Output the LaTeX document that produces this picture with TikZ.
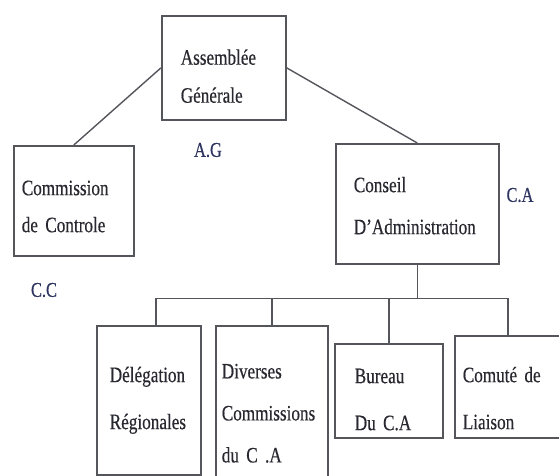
\documentclass[tikz,border=0pt]{standalone}
\usepackage{fontspec}
\setmainfont{Liberation Serif}[FakeStretch=0.78,FakeBold=0.4,WordSpace=0.45]
\usetikzlibrary{positioning}
\definecolor{boxline}{RGB}{85,85,92}
\definecolor{boxink}{RGB}{40,40,48}
\definecolor{tagink}{RGB}{45,52,95}
\newcommand{\topgap}[1]{\rule{0pt}{#1}}
\tikzset{
  orgbox/.style={draw=boxline, line width=1.6pt, rectangle, align=left,
    anchor=north west, inner ysep=0pt, text=boxink,
    font=\fontsize{22}{42}\selectfont},
  tag/.style={font=\fontsize{21}{24}\selectfont, text=tagink},
  link/.style={draw=boxline, line width=1.4pt}
}

\begin{document}
\begin{tikzpicture}[x=1pt,y=-1pt]
    \useasboundingbox (0,0) rectangle (559,475);
    \clip (0,0) rectangle (559,475);

    % Top level
    \node[orgbox, minimum width=124pt, minimum height=104pt, text width=86pt,
        inner xsep=19pt] (ag) at (161,15) {\topgap{32pt}Assemblée\\[-4pt]Générale};
    \node[tag] (agl) at (208,150) {A.G};

    % Second level
    \node[orgbox, minimum width=120pt, minimum height=110pt, text width=104pt,
        inner xsep=8pt] (cc) at (13,145) {\topgap{26pt}Commission\\[-5pt]de Controle};
    \node[tag] (ccl) at (44,290) {C.C};
    \node[orgbox, minimum width=163pt, minimum height=120pt, text width=127pt,
        inner xsep=18pt] (ca) at (335,143) {\topgap{19pt}Conseil\\D'Administration};
    \node[tag] (cal) at (520,195) {C.A};

    % Bodies under the C.A
    \node[orgbox, minimum width=104pt, minimum height=149pt, text width=78pt,
        inner xsep=13pt] (dr) at (96,325) {Délégation\\[5pt]Régionales};
    \node[orgbox, minimum width=112pt, minimum height=175pt, text width=100pt,
        inner xsep=6pt] (dc) at (215,325) {Diverses\\Commissions\\du C .A};
    \node[orgbox, minimum width=108pt, minimum height=94pt, text width=68pt,
        inner xsep=20pt] (bu) at (334,343) {\topgap{32pt}Bureau\\[5pt]Du C.A};
    \node[orgbox, minimum width=130pt, minimum height=102pt, text width=114pt,
        inner xsep=8pt] (cml) at (454,335) {\topgap{38pt}Comuté de\\[5pt]Liaison};

    % Links
    \draw[link] (ag.west) -- (cc.north);
    \draw[link] (ag.east) -- (ca.north);
    \coordinate (bus) at ([yshift=-34pt]ca.south);
    \draw[link] (ca.south) -- (bus);
    \draw[link] ([xshift=7pt]dr.north) |- (bus) -| ([xshift=-12pt]cml.north);
    \draw[link] (dc.north) -- (dc.north |- bus);
    \draw[link] (bu.north) -- (bu.north |- bus);
\end{tikzpicture}
\end{document}
